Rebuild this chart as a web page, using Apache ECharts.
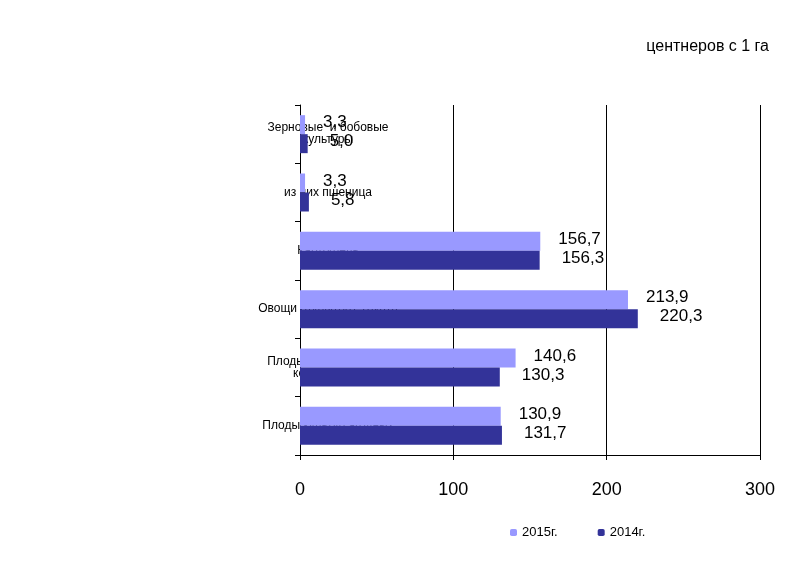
<!DOCTYPE html>
<html style="height:100%">
<head><meta charset="utf-8"><title>chart</title></head>
<body style="height:100%;margin:0;background:#fff">
<div id="container" style="width:800px;height:588px"></div>
<script src="https://cdn.jsdelivr.net/npm/echarts@6/dist/echarts.min.js"></script>
<script>
var categories = ['Зерновые  и бобовые\nкультуры', 'из них пшеница', 'Картофель', 'Овощи открытого  грунта', 'Плоды семечковые  и\nкосточковые', 'Плоды культур ягодных'];
var values2015 = [3.3, 3.3, 156.7, 213.9, 140.6, 130.9];
var values2014 = [5.0, 5.8, 156.3, 220.3, 130.3, 131.7];
var xTicks = [0, 100, 200, 300];

var fmt = function (p) { return p.value.toFixed(1).replace('.', ','); };
var myChart = echarts.init(document.getElementById('container'));
var option = {
    animation: false,
    textStyle: { fontFamily: 'Liberation Sans' },
    title: { text: 'центнеров с 1 га', right: 26, top: 34, textStyle: { fontSize: 16, fontWeight: 'normal', color: '#000' } },
    legend: {
        bottom: 44, left: 505, itemWidth: 7, itemHeight: 7, itemGap: 40,
        textStyle: { fontSize: 13, color: '#000' },
        data: ['2015г.', '2014г.']
    },
    grid: { left: 300, right: 40, top: 105, bottom: 133 },
    xAxis: {
        type: 'value', min: 0, max: 300, interval: 100,
        axisLabel: { fontSize: 18, color: '#000', margin: 26, formatter: function (v) { return xTicks.indexOf(v) >= 0 ? v : ''; } },
        splitLine: { lineStyle: { color: '#000' } },
        axisLine: { show: true, lineStyle: { color: '#000' } },
        axisTick: { show: true, lineStyle: { color: '#000' } }
    },
    yAxis: {
        type: 'category', inverse: true, data: categories,
        axisLabel: { fontSize: 12, color: '#000', margin: 22, align: 'center', padding: [0, -100, 0, 0] },
        axisLine: { lineStyle: { color: '#000' } },
        axisTick: { show: true, lineStyle: { color: '#000' } }
    },
    series: [
        { name: '2015г.', type: 'bar', data: values2015, barWidth: 19, barGap: '0%',
          itemStyle: { color: '#9999ff' },
          label: { show: true, position: 'right', distance: 18, offset: [0, -2], fontSize: 17, color: '#000', formatter: fmt } },
        { name: '2014г.', type: 'bar', data: values2014, barWidth: 19,
          itemStyle: { color: '#333399' },
          label: { show: true, position: 'right', distance: 22, offset: [0, -2], fontSize: 17, color: '#000', formatter: fmt } }
    ]
};
myChart.setOption(option);
</script>
</body>
</html>
